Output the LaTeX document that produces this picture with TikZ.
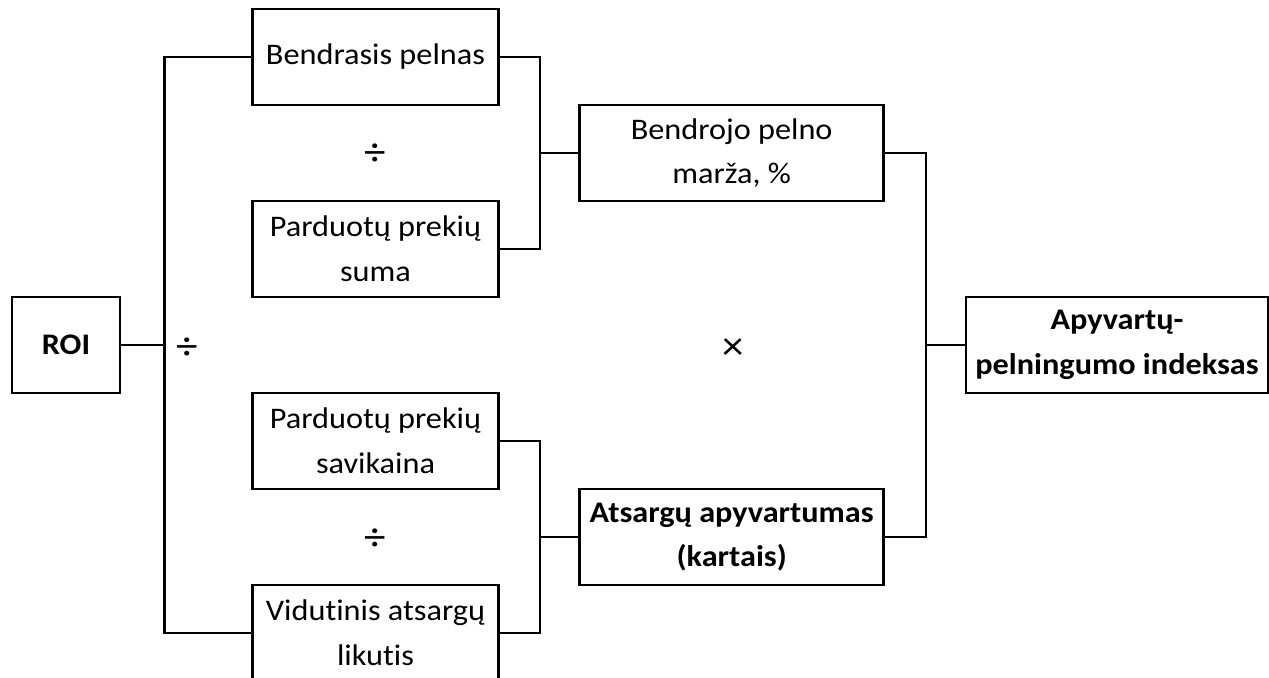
\documentclass[tikz,border=0pt]{standalone}
\usepackage{fontspec}
\setmainfont{Carlito}[FakeStretch=1.08,Ligatures=NoCommon]
\begin{document}
\begin{tikzpicture}[x=1bp,y=-1bp,
  box/.style={draw,line width=2.8bp,inner sep=0pt,align=center,minimum height=96bp,
    font=\fontsize{30}{45}\selectfont},
  sym/.style={inner sep=0pt,font=\fontsize{40}{42}\selectfont},
  conn/.style={line width=2.8bp}]
\useasboundingbox (0,0) rectangle (1269,678);
\node[box,minimum width=108bp,font=\fontsize{30}{45}\selectfont\bfseries] (roi) at (66,345) {ROI};
\node[box,minimum width=246bp] (bp) at (375.5,57) {Bendrasis pelnas};
\node[box,minimum width=246bp] (ps) at (375.5,249) {Parduotų prekių\\suma};
\node[box,minimum width=246bp] (sav) at (375.5,441) {Parduotų prekių\\savikaina};
\node[box,minimum width=246bp] (vid) at (375.5,633) {Vidutinis atsargų\\likutis};
\node[box,minimum width=304bp] (bpm) at (731.7,153) {Bendrojo pelno\\marža, \%};
\node[box,minimum width=304bp,font=\fontsize{30}{45}\selectfont\bfseries] (aa) at (731.7,537) {Atsargų apyvartumas\\(kartais)};
\node[box,minimum width=302bp,font=\fontsize{30}{45}\selectfont\bfseries] (api) at (1117,345) {Apyvartų-\\pelningumo indeksas};
\node[sym] (d1) at (375.5,155) {÷};
\node[sym] (d2) at (187.5,349) {÷};
\node[sym] (d3) at (375.5,540) {÷};
\node[sym] (m1) at (733,349) {×};
\coordinate (tL) at (164.6,0);
\coordinate (b1) at (540,0);
\coordinate (b3) at (926,0);
\draw[conn] (bp.west) -- (bp.west -| tL) -- (vid.west -| tL) -- (vid.west);
\draw[conn] (roi.east) -- (roi.east -| tL);
\draw[conn] (bp.east) -- (bp.east -| b1) -- (ps.east -| b1) -- (ps.east);
\draw[conn] (bpm.west -| b1) -- (bpm.west);
\draw[conn] (sav.east) -- (sav.east -| b1) -- (vid.east -| b1) -- (vid.east);
\draw[conn] (aa.west -| b1) -- (aa.west);
\draw[conn] (bpm.east) -- (bpm.east -| b3) -- (aa.east -| b3) -- (aa.east);
\draw[conn] (api.west -| b3) -- (api.west);
\end{tikzpicture}
\end{document}
